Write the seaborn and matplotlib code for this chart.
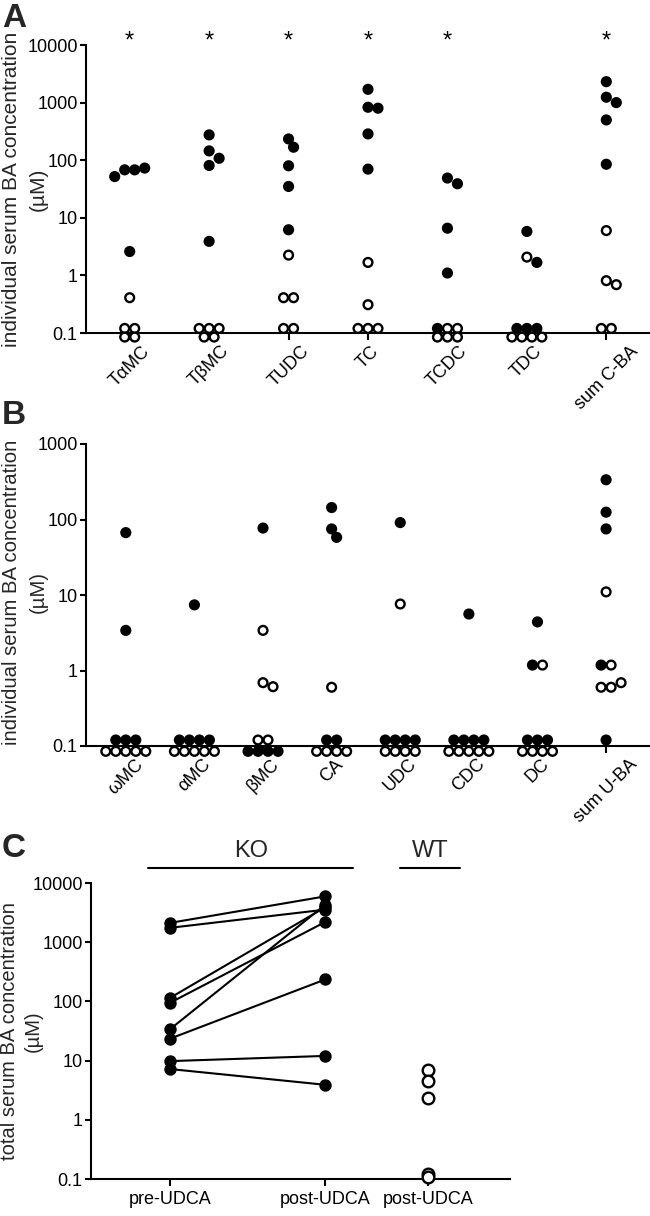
import numpy as np
import pandas as pd
import matplotlib
matplotlib.use("Agg")
import matplotlib.pyplot as plt
import seaborn as sns
from matplotlib import transforms
from matplotlib.ticker import NullLocator

sns.set_theme(style="ticks")
plt.rcParams["font.family"] = ["Liberation Sans", "DejaVu Sans"]

# ---------------- data ----------------
# Panel A: conjugated (taurine) bile acids, individual serum concentrations (µM)
A_categories = ["TαMC", "TβMC", "TUDC", "TC", "TCDC", "TDC", "sum C-BA"]
A_ko = [
    [68, 52, 73, 68, 2.6],
    [108, 275, 145, 81, 3.9],
    [234, 168, 80, 35, 6.2],
    [1700, 800, 830, 286, 70],
    [39, 49, 6.6, 1.1, 0.12],
    [5.8, 1.68, 0.12, 0.12, 0.12],
    [2310, 1240, 1000, 500, 85],
]
A_wt = [
    [0.41, 0.12, 0.12, 0.085, 0.085],
    [0.12, 0.12, 0.12, 0.085, 0.085],
    [2.25, 0.41, 0.41, 0.12, 0.12],
    [1.68, 0.31, 0.12, 0.12, 0.12],
    [0.12, 0.12, 0.085, 0.085, 0.085],
    [2.08, 0.085, 0.085, 0.085, 0.085],
    [6.0, 0.69, 0.81, 0.12, 0.12],
]
A_significant = [True, True, True, True, True, False, True]

# Panel B: unconjugated bile acids
B_categories = ["ωMC", "αMC", "βMC", "CA", "UDC", "CDC", "DC", "sum U-BA"]
B_ko = [
    [67, 3.4, 0.12, 0.12, 0.12],
    [7.4, 0.12, 0.12, 0.12, 0.12],
    [77, 0.085, 0.085, 0.085, 0.085],
    [75, 144, 58, 0.12, 0.12],
    [91, 0.12, 0.12, 0.12, 0.12],
    [5.6, 0.12, 0.12, 0.12, 0.12],
    [4.4, 1.18, 0.12, 0.12, 0.12],
    [336, 125, 75, 1.18, 0.12],
]
B_wt = [
    [0.085, 0.085, 0.085, 0.085, 0.085],
    [0.085, 0.085, 0.085, 0.085, 0.085],
    [3.4, 0.61, 0.69, 0.12, 0.12],
    [0.6, 0.085, 0.085, 0.085, 0.085],
    [7.6, 0.085, 0.085, 0.085, 0.085],
    [0.085, 0.085, 0.085, 0.085, 0.085],
    [1.18, 0.085, 0.085, 0.085, 0.085],
    [11, 1.18, 0.69, 0.6, 0.6],
]

# Panel C: total serum BA, KO paired pre/post UDCA, WT post UDCA
C_ko_pre = [2120, 1750, 115, 95, 34, 23.5, 9.8, 7.2]
C_ko_post = [5950, 3550, 3900, 2200, 4300, 235, 12, 3.9]
C_wt_post = [7.0, 4.5, 2.3, 0.12, 0.11]
C_tick_labels = ["pre-UDCA", "post-UDCA", "post-UDCA"]

y_ticks = [0.1, 1, 10, 100, 1000, 10000]
y_ticklabels = ["0.1", "1", "10", "100", "1000", "10000"]

# ---------------- layout ----------------
W, H = 650, 1216
fig = plt.figure(figsize=(W / 100, H / 100), dpi=100)
fig.patch.set_facecolor("white")


def px_axes(left, top, right, bottom):
    return fig.add_axes([left / W, 1 - bottom / H, (right - left) / W, (bottom - top) / H])


axA = px_axes(86, 45, 650, 333)
axB = px_axes(86, 444, 650, 746)
axC = px_axes(91, 883, 510, 1179)

TICK_FS = 13
face = {"KO": "black", "WT": "white"}


def dot_offsets(values, diam_dec, thresh=0.95):
    """GraphPad-like column scatter: tied values form centred rows, other
    points are pushed sideways (in marker-diameter units) to avoid overlap."""
    vals = np.asarray(values, float)
    logv = np.log10(vals)
    off = np.full(len(vals), np.nan)
    uniq, counts = np.unique(vals, return_counts=True)
    for u, c in zip(uniq, counts):
        if c > 1:
            idx = np.where(vals == u)[0]
            off[idx] = np.arange(c) - (c - 1) / 2
    placed = list(np.where(~np.isnan(off))[0])
    order = [i for i in np.argsort(-logv, kind="stable") if np.isnan(off[i])]
    cands = [0, 0.5, -0.5, 1, -1, 1.5, -1.5, 2, -2, 2.5, -2.5, 3, -3]
    for i in order:
        for cand in cands:
            ok = all(((cand - off[j]) ** 2 + ((logv[i] - logv[j]) / diam_dec) ** 2) >= thresh ** 2
                     for j in placed)
            if ok:
                off[i] = cand
                break
        placed.append(i)
    return off


def long_frame(categories, ko, wt, step, diam_dec):
    rows = []
    for k, (cat, kv, wv) in enumerate(zip(categories, ko, wt)):
        vals = list(kv) + list(wv)
        geno = ["KO"] * len(kv) + ["WT"] * len(wv)
        offs = dot_offsets(vals, diam_dec)
        for v, g, o in zip(vals, geno, offs):
            rows.append((cat, k + o * step, g, v))
    return pd.DataFrame(rows, columns=["bile_acid", "xpos", "genotype", "conc"])


def style_axis(ax, line1, ylim, label_fs, line1_right_px, unit_center_px, label_y=0.5):
    ax.set_yscale("log")
    ax.set_yticks(y_ticks)
    ax.set_yticklabels(y_ticklabels)
    ax.yaxis.set_minor_locator(NullLocator())
    ax.set_ylim(*ylim)
    ax.set_ylabel(line1, fontsize=label_fs)
    tr = transforms.blended_transform_factory(fig.transFigure, ax.transAxes)
    ax.yaxis.set_label_coords(line1_right_px / W, label_y, transform=tr)
    ax.text(unit_center_px / W, label_y, "(µM)", transform=tr, rotation=90,
            ha="center", va="center", fontsize=label_fs)
    ax.set_xlabel("")
    sns.despine(ax=ax)
    for s in ["left", "bottom"]:
        ax.spines[s].set_linewidth(1.5)
        ax.spines[s].set_color("black")
    ax.tick_params(axis="y", length=4, width=1.5, labelsize=TICK_FS, pad=2, colors="black")
    ax.tick_params(axis="x", length=5, width=1.5, labelsize=TICK_FS, pad=2, colors="black")
    ax.set_facecolor("white")


def scatter_panel(ax, categories, ko, wt, step, diam_dec, xlim, ylim, label_fs, label_y):
    df = long_frame(categories, ko, wt, step, diam_dec)
    ax.set_yscale("log")
    sns.scatterplot(data=df, x="xpos", y="conc", hue="genotype", palette=face,
                    edgecolor="black", linewidth=1.7, s=40, legend=False, ax=ax)
    for c in ax.collections:
        c.set_clip_on(False)
        c.set_zorder(4)
    ax.set_xlim(*xlim)
    ax.set_xticks(range(len(categories)))
    ax.set_xticklabels(categories, rotation=45, ha="center")
    style_axis(ax, "individual serum BA concentration", ylim, label_fs, 21, 38, label_y)


# Panel A  (10 px marker spacing; 79.5 px per category, 57.7 px per decade)
scatter_panel(axA, A_categories, A_ko, A_wt, 10 / 79.5, 10 / 57.7, (-0.55, 6.55), (0.1, 10000),
              15.0, 0.5)
star_tr = transforms.blended_transform_factory(axA.transData, axA.transAxes)
for i, sig in enumerate(A_significant):
    if sig:
        axA.text(i, 1.012, "*", transform=star_tr, ha="center", va="center",
                 fontsize=17, color="black", clip_on=False)

# Panel B  (68.6 px per category, 75.3 px per decade)
scatter_panel(axB, B_categories, B_ko, B_wt, 10 / 68.6, 10 / 75.3, (-0.58, 7.64), (0.1, 1000),
              14.6, 0.51)

# Panel C
x_pre, x_post_ko, x_post_wt = 0.0, 1.0, 1.66
axC.set_yscale("log")
rows = []
for m, (a, b) in enumerate(zip(C_ko_pre, C_ko_post)):
    rows.append((m, x_pre, a))
    rows.append((m, x_post_ko, b))
dfC = pd.DataFrame(rows, columns=["mouse", "x", "conc"])
sns.lineplot(data=dfC, x="x", y="conc", units="mouse", estimator=None,
             color="black", linewidth=1.5, ax=axC, legend=False)
sns.scatterplot(data=dfC, x="x", y="conc", color="black", s=80, linewidth=0,
                ax=axC, legend=False, zorder=4)
dfW = pd.DataFrame({"x": [x_post_wt] * len(C_wt_post), "conc": C_wt_post})
sns.scatterplot(data=dfW, x="x", y="conc", color="white", edgecolor="black",
                s=70, linewidth=1.7, ax=axC, legend=False, zorder=4)
for c in axC.collections:
    c.set_clip_on(False)
for l in axC.lines:
    l.set_clip_on(False)
axC.set_xlim(-0.51, 2.19)
axC.set_xticks([x_pre, x_post_ko, x_post_wt])
axC.set_xticklabels(C_tick_labels)
style_axis(axC, "total serum BA concentration", (0.1, 10000), 14.5, 19, 33)
axC.tick_params(axis="x", labelsize=13, pad=4)

grp_tr = transforms.blended_transform_factory(axC.transData, axC.transAxes)
axC.plot([-0.142, 1.18], [1.051, 1.051], transform=grp_tr, color="black", lw=1.5, clip_on=False)
axC.plot([1.484, 1.871], [1.051, 1.051], transform=grp_tr, color="black", lw=1.5, clip_on=False)
axC.text(0.52, 1.07, "KO", transform=grp_tr, ha="center", va="bottom", fontsize=17, clip_on=False)
axC.text(1.677, 1.07, "WT", transform=grp_tr, ha="center", va="bottom", fontsize=17, clip_on=False)

# Panel letters
for letter, top in [("A", 3), ("B", 400), ("C", 833)]:
    fig.text(2 / W, 1 - top / H, letter, fontsize=24, fontweight="bold", va="top", ha="left")

fig.savefig("out.png", dpi=100, facecolor="white")
